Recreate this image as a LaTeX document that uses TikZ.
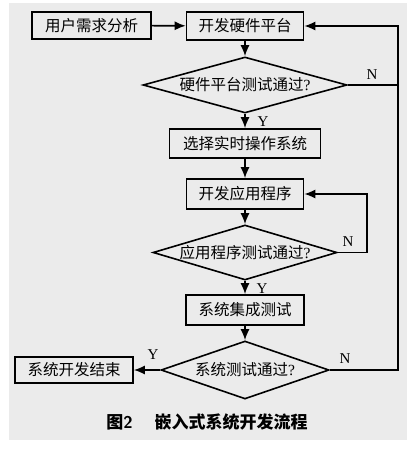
\documentclass[tikz,border=0pt]{standalone}
\usepackage{fontspec}
\setmainfont{Liberation Serif}
\newfontfamily\cjk{Noto Sans CJK SC}
\usetikzlibrary{shapes.geometric,arrows.meta}
\definecolor{paper}{RGB}{235,235,235}
\begin{document}
\begin{tikzpicture}[x=1pt,y=-1pt,
  every node/.style={inner sep=0pt},
  box/.style={draw,line width=1.6pt,fill=paper,font=\cjk\fontsize{15.5}{18}\selectfont},
  dia/.style={draw,shape=diamond,line width=1.6pt,fill=paper,font=\cjk\fontsize{15.5}{18}\selectfont},
  lbl/.style={font=\fontsize{15}{17}\selectfont},
  arr/.style={line width=1.6pt,-{Latex[length=11pt,width=9pt]}},
  ln/.style={line width=1.6pt}]
\useasboundingbox (0,0) rectangle (417,449);
\fill[paper] (9,3) rectangle (407,440);
\node[box,minimum width=119pt,minimum height=27pt] (a) at (91.5,25.5) {用户需求分析};
\node[box,minimum width=117pt,minimum height=28pt] (b) at (245,26) {开发硬件平台};
\node[dia,minimum width=204pt,minimum height=56pt,label={center:{\cjk\fontsize{15.5}{18}\selectfont 硬件平台测试通过{\rmfamily ?}}}] (d1) at (245,85) {};
\node[box,minimum width=151pt,minimum height=29pt] (c) at (245,143.5) {选择实时操作系统};
\node[box,minimum width=117pt,minimum height=30pt] (e) at (245,194) {开发应用程序};
\node[dia,minimum width=184pt,minimum height=55pt,label={center:{\cjk\fontsize{15.5}{18}\selectfont 应用程序测试通过{\rmfamily ?}}}] (d2) at (245,252.5) {};
\node[box,minimum width=118pt,minimum height=30pt] (f) at (245,310) {系统集成测试};
\node[dia,minimum width=168pt,minimum height=58pt,label={center:{\cjk\fontsize{15.5}{18}\selectfont 系统测试通过{\rmfamily ?}}}] (d3) at (245,370) {};
\node[box,minimum width=118pt,minimum height=26pt] (g) at (74,370) {系统开发结束};
\coordinate (rx) at (398,0);
\coordinate (lx) at (367,0);
\draw[arr] (a) -- (b);
\draw[arr] (b) -- (d1);
\draw[arr] (d1) -- (c);
\draw[arr] (c) -- (e);
\draw[arr] (e) -- (d2);
\draw[arr] (d2) -- (f);
\draw[arr] (f) -- (d3);
\draw[arr] (d3) -- (g);
\draw[arr] (d3.east) -- (d3.east -| rx) -- (rx |- b.east) -- (b.east);
\draw[ln] (d1.east) -- (d1.east -| rx);
\draw[arr] (d2.east) -- (d2.east -| lx) -- (lx |- e.east) -- (e.east);
\node[lbl] (n1) at (372,75) {N};
\node[lbl] (y1) at (263,122) {Y};
\node[lbl] (n2) at (348,242) {N};
\node[lbl] (y2) at (262,289) {Y};
\node[lbl] (n3) at (345,359) {N};
\node[lbl] (y3) at (153,355) {Y};
\node[font=\cjk\bfseries\fontsize{17}{20}\selectfont] (cap) at (207,422) {图{\sffamily\bfseries 2}\hspace{1.3em}嵌入式系统开发流程};
\end{tikzpicture}
\end{document}
